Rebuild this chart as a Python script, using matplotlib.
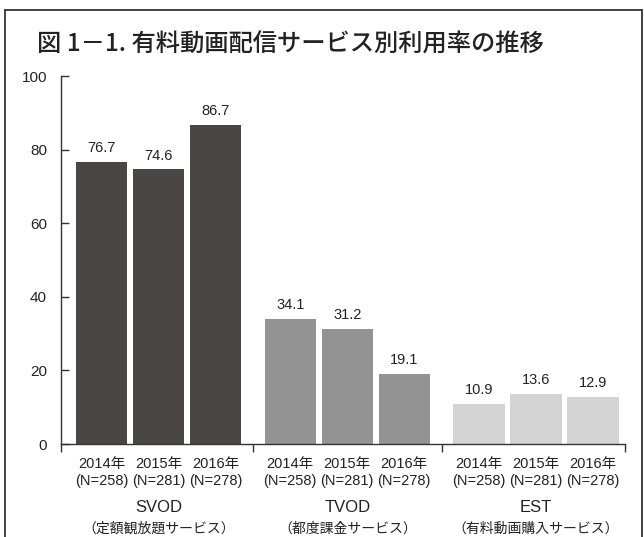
import matplotlib
matplotlib.use("Agg")
import matplotlib.pyplot as plt
from matplotlib.patches import Rectangle

plt.rcParams['font.family'] = ['Liberation Sans', 'Noto Sans CJK JP', 'DejaVu Sans']

# データ
groups = ['SVOD', 'TVOD', 'EST']
group_sub = ['（定額観放題サービス）', '（都度課金サービス）', '（有料動画購入サービス）']
years = ['2014年', '2015年', '2016年']
sample_n = ['(N=258)', '(N=281)', '(N=278)']
svod = [76.7, 74.6, 86.7]
tvod = [34.1, 31.2, 19.1]
est = [10.9, 13.6, 12.9]
colors = ['#4a4646', '#939393', '#d4d4d4']

values = [svod, tvod, est]

fig = plt.figure(figsize=(6.44, 5.37), dpi=100)
ax = fig.add_axes([61/644, 1-444/537, (625-61)/644, (444-76)/537])

group_step = 3.31
width = 0.9
txt = '#222222'

for g, vals in enumerate(values):
    xs = [g*group_step + i for i in range(3)]
    ax.bar(xs, vals, width=width, color=colors[g], linewidth=0)
    for x, v in zip(xs, vals):
        ax.annotate(f'{v}', (x, v), xytext=(0, 5), textcoords='offset points',
                    ha='center', va='bottom', fontsize=10.5, color=txt)
    for x, y_lab, n_lab in zip(xs, years, sample_n):
        ax.annotate(y_lab, (x, 0), xytext=(0, -14.5), textcoords='offset points',
                    ha='center', va='center', fontsize=10.5, color=txt,
                    annotation_clip=False)
        ax.annotate(n_lab, (x, 0), xytext=(0, -26.5), textcoords='offset points',
                    ha='center', va='center', fontsize=10.5, color=txt,
                    annotation_clip=False)
    xc = g*group_step + 1
    ax.annotate(groups[g], (xc, 0), xytext=(0, -46), textcoords='offset points',
                ha='center', va='center', fontsize=12, color=txt,
                annotation_clip=False)
    ax.annotate(group_sub[g], (xc, 0), xytext=(0, -61), textcoords='offset points',
                ha='center', va='center', fontsize=10, color=txt,
                annotation_clip=False)

ax.set_xlim(-0.71, 2*group_step + 2 + 0.56)
ax.set_ylim(0, 100)
ax.set_yticks([0, 20, 40, 60, 80, 100])
ax.tick_params(axis='y', direction='in', length=6, width=1, labelsize=11,
               colors='#333333', labelcolor=txt, pad=10)
bounds = [-0.71, 2 + (group_step - 2)/2, group_step + 2 + (group_step - 2)/2,
          2*group_step + 2 + 0.56]
ax.set_xticks(bounds)
ax.set_xticklabels([])
ax.tick_params(axis='x', direction='out', length=6, width=1, colors='#333333')
for s in ['top', 'right']:
    ax.spines[s].set_visible(False)
for s in ['left', 'bottom']:
    ax.spines[s].set_color('#333333')
    ax.spines[s].set_linewidth(1)

fig.text(37/644, 1-45/537, '図 1－1. 有料動画配信サービス別利用率の推移',
         fontsize=17.5, color=txt, va='center', ha='left', fontweight='medium',
         family=['Noto Sans CJK JP', 'DejaVu Sans'])

# 外枠
fig.add_artist(Rectangle((5/644, -0.05), (642-5)/644, 1.05 - 10/537,
                         transform=fig.transFigure, fill=False,
                         edgecolor='#333333', linewidth=1.3, clip_on=False))

fig.savefig('out.png', dpi=100)
